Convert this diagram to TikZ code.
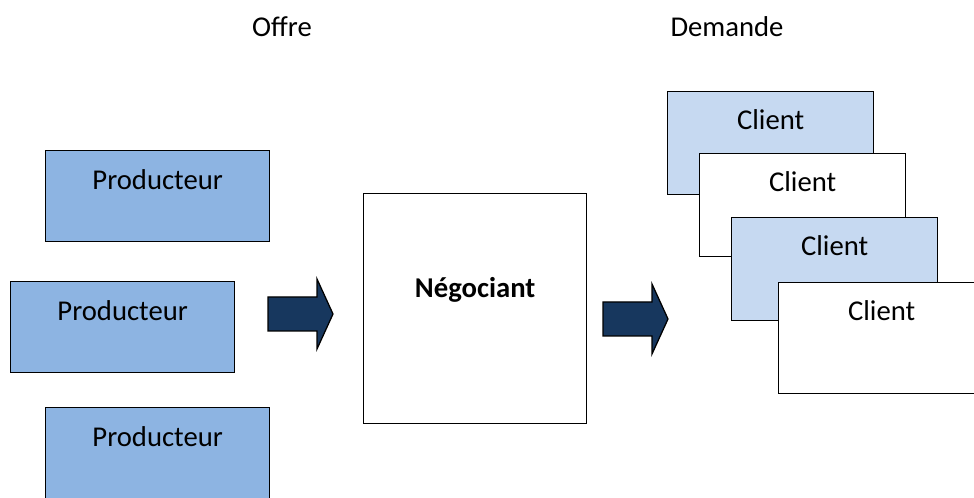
\documentclass[tikz,border=0pt]{standalone}
\usepackage{fontspec}
\setmainfont{Carlito}
\usetikzlibrary{positioning}
\definecolor{prodfill}{RGB}{141,180,226}
\definecolor{clifill}{RGB}{198,217,241}
\definecolor{arrfill}{RGB}{23,55,94}

\begin{document}
\begin{tikzpicture}[
  x=0.025cm, y=-0.025cm,
  every node/.style={font=\fontsize{20.4}{24}\selectfont},
  %% producer boxes -- mid blue, text near the top
  prod/.style={
    draw=black, fill=prodfill, line width=0.9pt,
    anchor=north west, inner sep=0pt,
    minimum width=5.6cm, text height=0.9625cm, text depth=1.3125cm
  },
  %% client cards -- alternately light blue and white
  cli/.style={
    draw=black, fill=#1, line width=0.9pt,
    anchor=north west, inner sep=0pt,
    minimum width=5.15cm, text height=0.95cm, text depth=1.625cm
  },
  %% the trader in the middle
  neg/.style={
    draw=black, fill=white, line width=0.9pt,
    anchor=north west, inner sep=0pt,
    minimum width=5.575cm, text height=2.6cm, text depth=3.15cm,
    font=\fontsize{20.4}{24}\selectfont\bfseries
  },
  %% heading over each side
  head/.style={anchor=base, inner sep=0pt},
  %% fat block arrows
  blockarr/.style={draw=black, fill=arrfill, line width=0.9pt, line join=miter},
]

\useasboundingbox (0,0) rectangle (974,498);
\clip (0,0) rectangle (974,498);

%%── Headings ─────────────────────────────────────────────────────────────────
\node[head] (offre) at (282,37) {Offre};
\node[head] (dem) at (727,37) {Demande};

%%── Producers (supply side) ──────────────────────────────────────────────────
\node[prod] (p1) at (45,150) {Producteur};
\node[prod] (p2) at (10,281) {Producteur};
\node[prod] (p3) at (45,407) {Producteur};

%%── Trader ───────────────────────────────────────────────────────────────────
\node[neg] (nego) at (363,193) {Négociant};

%%── Clients (demand side), stacked back to front ─────────────────────────────
\node[cli=clifill] (c1) at (667,91) {Client};
\node[cli=white] (c2) at (699,153) {Client};
\node[cli=clifill] (c3) at (731,217) {Client};
\node[cli=white, text depth=1.825cm] (c4) at (778,282) {Client};

%%── Block arrows ─────────────────────────────────────────────────────────────
\foreach \x/\y in {268/314, 603/319}
  \draw[blockarr] (\x,\y-17) -- ++(49,0) -- ++(0,-18) -- ++(16,35)
    -- ++(-16,35) -- ++(0,-18) -- ++(-49,0) -- cycle;

\end{tikzpicture}
\end{document}
